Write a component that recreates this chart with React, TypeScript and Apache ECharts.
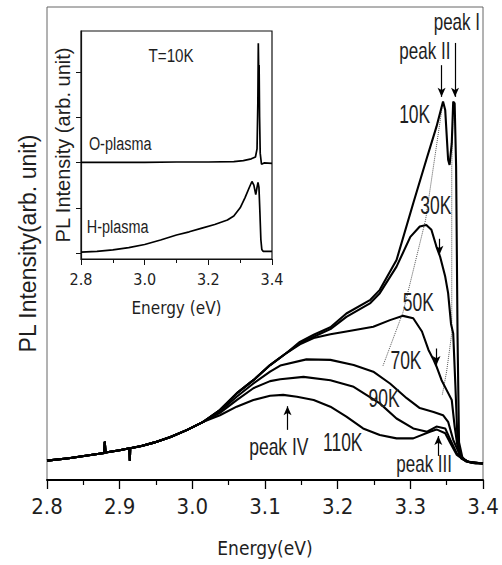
import React, { useEffect, useRef } from "react";
import * as echarts from "echarts";

// ---------------- data ----------------
const xTicksMain = [2.8, 2.9, 3.0, 3.1, 3.2, 3.3, 3.4];
const insetYTicks = [0, 1, 2, 3, 4];

// shared low-energy part of all main curves (energy eV, intensity arb.)
const lowCommon: number[][] = [
  [2.8, 4.1], [2.83, 4.6], [2.86, 5.3], [2.879, 5.7], [2.8795, 8.1], [2.8805, 5.8],
  [2.9, 6.3], [2.9135, 6.7], [2.914, 4.1], [2.9145, 6.7], [2.93, 7.2], [2.947, 7.9],
  [2.97, 9.1], [2.993, 10.6], [3.015, 12.3],
];
const upperShared: number[][] = [
  [3.038, 14.8], [3.061, 18.3], [3.084, 21.1], [3.107, 24.3], [3.13, 26.9],
];
const tail110K: number[][] = [
  [3.038, 13.7], [3.061, 15.5], [3.084, 16.9], [3.107, 17.8], [3.125, 18.0], [3.144, 17.6],
  [3.167, 16.9], [3.19, 15.5], [3.212, 13.4], [3.235, 10.9], [3.258, 9.5], [3.281, 8.8],
  [3.304, 8.8], [3.327, 10.2], [3.336, 10.7], [3.348, 9.9], [3.355, 7.8], [3.364, 5.3],
  [3.377, 3.9], [3.39, 3.5], [3.4, 3.5],
];
const tail90K: number[][] = [
  [3.038, 14.2], [3.061, 16.9], [3.084, 19.4], [3.107, 20.9], [3.121, 21.3], [3.153, 21.8],
  [3.19, 21.1], [3.222, 19.7], [3.258, 16.2], [3.281, 13.0], [3.304, 10.9], [3.323, 10.2],
  [3.336, 11.3], [3.348, 10.9], [3.355, 8.5], [3.364, 5.6], [3.375, 4.2], [3.385, 3.6], [3.4, 3.5],
];
const tail70K: number[][] = [
  [3.038, 14.5], [3.061, 17.6], [3.084, 20.4], [3.107, 22.9], [3.121, 24.2], [3.157, 25.5],
  [3.19, 25.4], [3.222, 24.3], [3.249, 22.9], [3.272, 20.4], [3.295, 17.3], [3.313, 15.2],
  [3.332, 14.4], [3.345, 13.7], [3.352, 12.3], [3.359, 8.5], [3.368, 5.3], [3.378, 3.9], [3.4, 3.5],
];
const tail50K: number[][] = [
  [3.148, 28.7], [3.167, 30.0], [3.19, 30.8], [3.212, 31.4], [3.249, 32.4], [3.272, 33.8],
  [3.29, 34.7], [3.304, 34.2], [3.316, 31.4], [3.325, 27.5], [3.332, 25.4], [3.336, 24.0],
  [3.343, 21.1], [3.35, 19.0], [3.357, 16.9], [3.361, 11.3], [3.365, 7.0], [3.37, 4.6],
  [3.38, 3.8], [3.4, 3.5],
];
const tail30K: number[][] = [
  [3.148, 28.9], [3.167, 30.3], [3.19, 31.9], [3.212, 34.5], [3.245, 37.4], [3.258, 39.5],
  [3.281, 45.1], [3.3, 51.4], [3.313, 53.6], [3.322, 53.9], [3.329, 52.9], [3.336, 49.3],
  [3.341, 47.2], [3.348, 43.0], [3.352, 39.5], [3.356, 33.0], [3.359, 31.0], [3.362, 20],
  [3.365, 8], [3.37, 4.6], [3.38, 3.8], [3.4, 3.5],
];
const tail10K: number[][] = [
  [3.148, 29.2], [3.167, 30.7], [3.19, 32.3], [3.212, 35.2], [3.245, 38.1], [3.258, 40.2],
  [3.281, 46.5], [3.304, 58.5], [3.322, 67.7], [3.336, 74.7], [3.345, 80.0], [3.348, 78.2],
  [3.352, 67.7], [3.354, 66.6], [3.357, 71.2], [3.359, 80.0], [3.361, 79.6], [3.363, 66.2],
  [3.365, 30], [3.367, 8], [3.372, 4.5], [3.38, 3.8], [3.4, 3.5],
];
const guidePeakII: number[][] = [[3.344, 79], [3.321, 55], [3.29, 35.5], [3.262, 24]];
const guidePeakI: number[][] = [[3.359, 79], [3.357, 66], [3.357, 31], [3.35, 23], [3.344, 18]];

// inset (T = 10K)
const oPlasma: number[][] = [
  [2.8, 2.0], [2.9, 2.0], [3.0, 2.0], [3.1, 2.01], [3.2, 2.01], [3.28, 2.02], [3.31, 2.04],
  [3.335, 2.08], [3.348, 2.12], [3.353, 2.3], [3.3555, 3.3], [3.357, 4.63], [3.3585, 3.9],
  [3.3595, 4.15], [3.361, 3.0], [3.363, 2.2], [3.367, 1.96], [3.375, 1.99], [3.4, 1.98],
];
const hPlasma: number[][] = [
  [2.8, 0.02], [2.85, 0.04], [2.9, 0.07], [2.95, 0.12], [3.0, 0.19], [3.05, 0.29], [3.1, 0.4],
  [3.14, 0.47], [3.18, 0.55], [3.22, 0.63], [3.26, 0.73], [3.28, 0.82], [3.3, 1.0], [3.315, 1.22],
  [3.33, 1.47], [3.337, 1.58], [3.343, 1.5], [3.349, 1.29], [3.353, 1.45], [3.356, 1.56],
  [3.359, 1.45], [3.362, 0.9], [3.365, 0.3], [3.368, 0.08], [3.372, 0.04], [3.4, 0.04],
];

// annotation texts and where they sit (data coordinates of each grid)
const mainLabels = [
  { text: "peak I", at: [3.364, 96.8], size: 23, sx: 0.74 },
  { text: "peak II", at: [3.32, 90.7], size: 23, sx: 0.74 },
  { text: "10K", at: [3.306, 77.4], size: 25, sx: 0.7 },
  { text: "30K", at: [3.335, 58.1], size: 25, sx: 0.7 },
  { text: "50K", at: [3.311, 37.6], size: 25, sx: 0.7 },
  { text: "70K", at: [3.294, 25.4], size: 25, sx: 0.7 },
  { text: "90K", at: [3.264, 17.3], size: 25, sx: 0.7 },
  { text: "110K", at: [3.207, 8.0], size: 25, sx: 0.7 },
  { text: "peak IV", at: [3.119, 7.0], size: 23, sx: 0.76 },
  { text: "peak III", at: [3.319, 3.4], size: 23, sx: 0.74 },
];
const insetLabels = [
  { text: "T=10K", at: [3.083, 4.37], size: 19, sx: 0.8 },
  { text: "O-plasma", at: [2.923, 2.42], size: 19, sx: 0.76 },
  { text: "H-plasma", at: [2.915, 0.57], size: 19, sx: 0.76 },
];
const arrows = [
  [[3.343, 87.7], [3.343, 81.0]],
  [[3.3615, 92.4], [3.3615, 81.0]],
  [[3.131, 10.6], [3.131, 15.6]],
  [[3.3385, 5.1], [3.3385, 9.3]],
  [[3.336, 27.8], [3.336, 24.3]],
  [[3.34, 51.0], [3.34, 47.6]],
];

const TEXT = "#1e1e1e";
const NARROW = "'Liberation Sans Narrow', 'Arial Narrow', 'DejaVu Sans Condensed', 'Liberation Sans', sans-serif";
const SANS = "'Liberation Sans', Arial, sans-serif";

export default function App() {
  const ref = useRef<HTMLDivElement>(null);
  useEffect(() => {
    if (!ref.current) return;
    const chart = echarts.init(ref.current, undefined, { renderer: "svg" });
    const curve = (name: string, data: number[][]) => ({
      name,
      type: "line",
      xAxisIndex: 0,
      yAxisIndex: 0,
      data,
      showSymbol: false,
      silent: true,
      lineStyle: { color: "#000", width: 2.1 },
      z: 3,
    });
    const option: any = {
      animation: false,
      backgroundColor: "#fff",
      grid: [
        { left: 47, top: 7, width: 436, height: 473, show: true, borderColor: "#666", borderWidth: 1 },
        { left: 81, top: 31, width: 191, height: 228, show: true, borderColor: "#111", borderWidth: 1.2, backgroundColor: "#fff" },
      ],
      xAxis: [
        {
          gridIndex: 0, type: "value", min: xTicksMain[0], max: xTicksMain[xTicksMain.length - 1], interval: 0.1,
          axisLine: { show: true, onZero: false, lineStyle: { color: "#000", width: 2 } },
          axisTick: { show: true, length: 9, lineStyle: { color: "#000", width: 1.3 } },
          minorTick: { show: true, splitNumber: 2, length: 5, lineStyle: { color: "#000", width: 1.2 } },
          splitLine: { show: false },
          axisLabel: { margin: 15, fontSize: 22, fontFamily: NARROW, color: TEXT, formatter: (v: number) => v.toFixed(1) },
          name: "Energy(eV)", nameLocation: "middle", nameGap: 58,
          nameTextStyle: { fontSize: 19, fontFamily: NARROW, color: TEXT },
        },
        {
          gridIndex: 1, type: "value", min: 2.8, max: 3.4, interval: 0.2,
          axisLine: { show: true, onZero: false, lineStyle: { color: "#111", width: 1.2 } },
          axisTick: { show: true, length: 6, lineStyle: { color: "#111", width: 1 } },
          minorTick: { show: true, splitNumber: 2, length: 4, lineStyle: { color: "#111", width: 1 } },
          splitLine: { show: false },
          axisLabel: { margin: 12, fontSize: 16, fontFamily: NARROW, color: TEXT, formatter: (v: number) => v.toFixed(1) },
          name: "Energy (eV)", nameLocation: "middle", nameGap: 40,
          nameTextStyle: { fontSize: 17, fontFamily: NARROW, color: TEXT },
        },
      ],
      yAxis: [
        {
          gridIndex: 0, type: "value", min: 0, max: 100,
          axisLine: { show: false }, axisTick: { show: false }, axisLabel: { show: false }, splitLine: { show: false },
          name: "PL Intensity(arb. unit)", nameLocation: "middle", nameGap: 8, nameRotate: 90,
          nameTextStyle: { fontSize: 23, fontFamily: SANS, color: TEXT },
        },
        {
          gridIndex: 1, type: "value", min: -0.13, max: 4.9,
          axisLine: { show: true, lineStyle: { color: "#111", width: 1.2 } },
          axisTick: { show: true, inside: false, length: 5, customValues: insetYTicks, lineStyle: { color: "#111", width: 1 } },
          axisLabel: { show: false }, splitLine: { show: false },
          name: "PL Intensity (arb. unit)", nameLocation: "middle", nameGap: 8, nameRotate: 90,
          nameTextStyle: { fontSize: 20, fontFamily: SANS, color: TEXT },
        },
      ],
      series: [
        curve("110K", [...lowCommon, ...tail110K]),
        curve("90K", [...lowCommon, ...tail90K]),
        curve("70K", [...lowCommon, ...tail70K]),
        curve("50K", [...lowCommon, ...upperShared, ...tail50K]),
        curve("30K", [...lowCommon, ...upperShared, ...tail30K]),
        curve("10K", [...lowCommon, ...upperShared, ...tail10K]),
        {
          name: "guide II", type: "line", xAxisIndex: 0, yAxisIndex: 0, data: guidePeakII, showSymbol: false, silent: true,
          lineStyle: { color: "#555", width: 1, type: "dotted" }, z: 2,
          markLine: {
            silent: true, symbol: ["none", "arrow"], symbolSize: [6, 9], label: { show: false },
            lineStyle: { color: "#000", width: 1.2, type: "solid" },
            data: arrows.map((a) => [{ coord: a[0] }, { coord: a[1] }]),
          },
        },
        {
          name: "guide I", type: "line", xAxisIndex: 0, yAxisIndex: 0, data: guidePeakI, showSymbol: false, silent: true,
          lineStyle: { color: "#555", width: 1, type: "dotted" }, z: 2,
        },
        {
          name: "O-plasma", type: "line", xAxisIndex: 1, yAxisIndex: 1, data: oPlasma, showSymbol: false, silent: true,
          lineStyle: { color: "#000", width: 1.7 }, z: 3,
        },
        {
          name: "H-plasma", type: "line", xAxisIndex: 1, yAxisIndex: 1, data: hPlasma, showSymbol: false, silent: true,
          lineStyle: { color: "#000", width: 1.7 }, z: 3,
        },
      ],
    };
    chart.setOption(option);

    const mk = (l: { text: string; at: number[]; size: number; sx: number }, gridIndex: number) => {
      const p = chart.convertToPixel({ gridIndex } as any, l.at as any) as any;
      return {
        type: "text",
        x: p[0],
        y: p[1],
        scaleX: l.sx,
        z: 10,
        style: { text: l.text, fontSize: l.size, fontFamily: SANS, fill: TEXT, align: "center", verticalAlign: "middle" },
      };
    };
    chart.setOption({
      graphic: [...mainLabels.map((l) => mk(l, 0)), ...insetLabels.map((l) => mk(l, 1))],
    });
    return () => chart.dispose();
  }, []);
  return (
    <div
      ref={ref}
      style={{ position: "fixed", left: 0, top: 0, width: 502, height: 565, background: "#fff" }}
    />
  );
}
